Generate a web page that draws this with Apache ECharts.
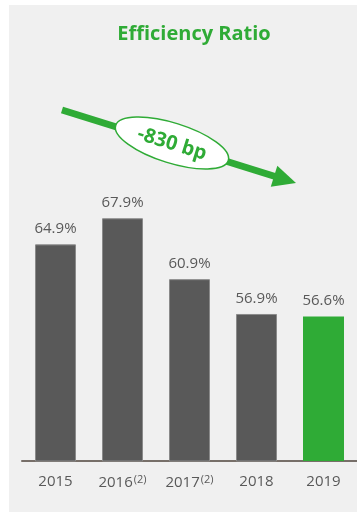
<!DOCTYPE html>
<html><head><meta charset="utf-8">
<script src="https://cdn.jsdelivr.net/npm/echarts@6/dist/echarts.min.js"></script>
<style>html,body{margin:0;padding:0;background:#fff}#c{width:357px;height:512px}</style>
</head><body><div id="c"></div>
<script>
const categories = ['2015', '2016{sup|(2)}', '2017{sup|(2)}', '2018', '2019'];
const values = [64.9, 67.9, 60.9, 56.9, 56.6];
const labels = ['64.9%', '67.9%', '60.9%', '56.9%', '56.6%'];
const highlightIndex = 4;
const titleText = 'Efficiency Ratio';
const badgeText = '-830 bp';

const GRAY = '#595959', GREEN = '#2fab36', FONT = 'Open Sans';
const chart = echarts.init(document.getElementById('c'));

// arrow geometry
const sx = 62, sy = 110, ex = 296, ey = 183;
const L = Math.hypot(ex - sx, ey - sy), ux = (ex - sx) / L, uy = (ey - sy) / L;
const hl = 23, hw = 11;
const bx = ex - ux * hl, by = ey - uy * hl;
const ang = Math.atan2(ey - sy, ex - sx);

chart.setOption({
  backgroundColor: '#ffffff',
  animation: false,
  title: { text: titleText, left: 189, top: 19, textAlign: 'center',
    textStyle: { color: GREEN, fontFamily: FONT, fontWeight: 'bold', fontSize: 20 } },
  grid: { left: 22, right: -3, top: 26, bottom: 51 },
  xAxis: { type: 'category', data: categories,
    axisLine: { lineStyle: { color: '#776f69', width: 2 } },
    axisTick: { show: false },
    axisLabel: { interval: 0, hideOverlap: false, color: GRAY, fontFamily: FONT, fontSize: 15, margin: 13,
      rich: { sup: { fontSize: 11, color: GRAY, fontFamily: FONT, verticalAlign: 'top', padding: [0, 0, 6, 1] } } } },
  yAxis: { type: 'value', min: 40, max: 90, show: false, splitLine: { show: false } },
  series: [{
    type: 'bar', barWidth: 41, z: 5,
    data: values.map((v, i) => ({ value: v,
      itemStyle: i === highlightIndex ? { color: GREEN } : { color: GRAY, borderColor: '#8a8a8a', borderWidth: 1 } })),
    label: { show: true, position: 'top', distance: 8, color: GRAY, fontFamily: FONT, fontSize: 15,
      formatter: p => labels[p.dataIndex] }
  }],
  graphic: [
    { type: 'rect', z: -10, shape: { x: 9, y: 5, width: 348, height: 507 }, style: { fill: '#f0f0f0' } },
    { type: 'line', z: 10, shape: { x1: sx, y1: sy, x2: bx + ux * 2, y2: by + uy * 2 }, style: { stroke: GREEN, lineWidth: 7 } },
    { type: 'polygon', z: 10, shape: { points: [[ex, ey], [bx - uy * hw, by + ux * hw], [bx + uy * hw, by - ux * hw]] }, style: { fill: GREEN } },
    { type: 'ellipse', z: 11, x: 172, y: 143, rotation: -ang, shape: { cx: 0, cy: 0, rx: 59, ry: 20 }, style: { fill: '#ffffff', stroke: GREEN, lineWidth: 1.5 } },
    { type: 'text', z: 12, x: 172, y: 144, rotation: -ang, style: { text: badgeText, fill: GREEN, font: 'bold 20px "Open Sans"', align: 'center', verticalAlign: 'middle' } }
  ]
});
</script></body></html>
